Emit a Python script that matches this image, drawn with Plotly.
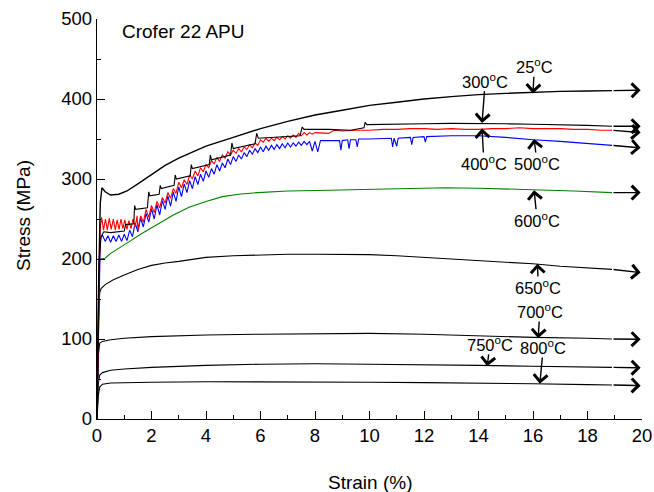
import plotly.graph_objects as go

# ---------------- data (strain %, stress MPa) ----------------
temps = ["25", "300", "400", "500", "600", "650", "700", "750", "800"]

s25 = [(0, 0), (0.05, 150), (0.12, 270), (0.18, 289), (0.3, 284), (0.5, 280), (0.8, 281),
       (1.1, 285), (1.5, 294), (2.0, 306), (2.5, 317), (3.0, 326), (3.6, 335), (4.0, 341),
       (5.0, 352), (6.0, 363), (7.0, 372), (8.0, 380), (9.0, 386), (10.0, 392), (11, 396),
       (12, 400), (13, 403), (14, 405.5), (15, 407), (16, 408.5), (17, 409.5), (18, 410),
       (18.9, 410.5)]

s300 = [(0, 0), (0.08, 200), (0.15, 228), (0.25, 234), (0.5, 233), (0.8, 234), (1.0, 235),
        (1.05, 243), (1.35, 244), (1.38, 267), (1.42, 262), (1.85, 264), (1.9, 284),
        (1.94, 279), (2.28, 281), (2.32, 292), (2.36, 288), (2.83, 292), (2.87, 305),
        (2.91, 300), (3.42, 304), (3.46, 318), (3.5, 313), (4.12, 318), (4.16, 330),
        (4.2, 324), (4.9, 330), (4.95, 345), (5.0, 338), (5.8, 344), (5.86, 357),
        (5.92, 351), (7.45, 354), (7.53, 365), (7.6, 362), (8.5, 362), (9.3, 361),
        (9.8, 364), (9.84, 371), (9.9, 368), (11, 369), (12, 369), (13, 369.5),
        (14, 369.5), (15, 369), (16, 368.5), (17, 368), (18, 367), (18.9, 366)]

s400 = [(0, 0), (0.08, 200), (0.12, 240), (0.17, 252), (0.24, 236), (0.31, 250), (0.38, 236),
        (0.45, 251), (0.52, 237), (0.6, 250), (0.67, 236), (0.74, 249), (0.81, 237),
        (0.88, 250), (0.95, 238), (1.02, 249), (1.1, 237), (1.17, 248), (1.25, 238),
        (1.32, 250), (1.4, 240), (1.47, 254),
        (1.5, 236), (1.6, 254), (1.7, 246), (1.8, 262), (1.9, 252), (2.0, 267), (2.1, 258),
        (2.2, 272), (2.3, 264), (2.4, 277), (2.5, 270), (2.6, 283), (2.7, 276), (2.8, 288),
        (2.9, 282), (3.0, 296), (3.1, 289), (3.2, 299), (3.3, 293), (3.4, 305), (3.5, 300),
        (3.6, 310), (3.7, 304), (3.8, 314), (3.9, 309), (4.0, 318), (4.1, 314), (4.2, 323),
        (4.3, 319), (4.4, 327), (4.5, 322), (4.6, 330), (4.7, 326), (4.8, 334), (4.9, 330),
        (5.0, 336), (5.1, 332), (5.2, 338), (5.3, 334), (5.4, 340), (5.5, 337), (5.6, 343),
        (5.7, 339), (5.8, 345), (5.9, 342), (6.0, 349), (6.1, 346), (6.2, 351), (6.3, 347),
        (6.4, 351), (6.5, 348), (6.6, 352), (6.7, 349), (6.8, 353), (6.9, 350), (7.0, 354),
        (7.1, 351), (7.2, 355), (7.3, 352), (7.4, 357), (7.5, 354), (7.6, 358), (7.7, 355),
        (7.8, 358), (7.9, 356), (8.0, 358), (8.5, 357), (8.7, 361), (9, 360), (9.5, 361),
        (10, 361), (10.5, 362), (11, 362), (11.5, 363), (12, 363), (12.5, 362), (13, 363),
        (13.5, 362), (14, 362), (14.5, 363), (15, 363), (15.5, 364), (16, 363), (16.5, 363),
        (17, 363), (17.5, 362), (18, 362), (18.5, 361), (18.9, 361)]

s500 = [(0, 0), (0.08, 190), (0.12, 225), (0.2, 230), (0.3, 222), (0.4, 229), (0.5, 221),
        (0.6, 229), (0.7, 222), (0.8, 230), (0.9, 222), (1.0, 231), (1.1, 223), (1.2, 236),
        (1.3, 228), (1.4, 245), (1.5, 234), (1.6, 251), (1.7, 240), (1.8, 257), (1.9, 246),
        (2.0, 263), (2.1, 250), (2.2, 268), (2.3, 255), (2.4, 273), (2.5, 262), (2.6, 279),
        (2.7, 266), (2.8, 284), (2.9, 272), (3.0, 290), (3.1, 278), (3.2, 294), (3.3, 283),
        (3.4, 298), (3.5, 288), (3.6, 303), (3.7, 293), (3.8, 306), (3.9, 297), (4.0, 310),
        (4.1, 302), (4.2, 313), (4.3, 306), (4.4, 318), (4.5, 310), (4.6, 320), (4.7, 314),
        (4.8, 325), (4.9, 318), (5.0, 328), (5.1, 322), (5.2, 330), (5.3, 325), (5.4, 333),
        (5.5, 328), (5.6, 336), (5.7, 331), (5.8, 338), (5.9, 333), (6.0, 340), (6.1, 334),
        (6.2, 341), (6.3, 336), (6.4, 342), (6.5, 337), (6.6, 343), (6.7, 338), (6.8, 344),
        (6.9, 339), (7.0, 345), (7.1, 340), (7.2, 345), (7.3, 341), (7.4, 346), (7.5, 342),
        (7.6, 347), (7.7, 343), (7.8, 347), (7.9, 335), (8.0, 347), (8.1, 334), (8.2, 348),
        (8.5, 348), (8.9, 348), (8.95, 336), (9.0, 348), (9.2, 349), (9.25, 338), (9.3, 349),
        (9.5, 349), (9.55, 340), (9.6, 350), (10, 350), (10.8, 351), (10.85, 340),
        (10.9, 351), (11.0, 341), (11.05, 351), (11.5, 352), (11.55, 343), (11.6, 352),
        (12.0, 353), (12.05, 346), (12.1, 353), (13, 354), (14, 354), (15, 352), (16, 349),
        (17, 347), (18, 344), (18.9, 342)]

s600 = [(0, 0), (0.08, 195), (0.12, 200), (0.3, 201), (0.5, 207), (0.8, 213), (1.2, 222),
        (1.6, 231), (2.2, 243), (2.8, 255), (3.4, 265), (4.0, 272), (4.6, 278), (5.2, 281),
        (5.9, 283), (7.0, 285), (8.5, 286), (10, 287), (11.5, 288), (12.8, 289), (14, 288.5),
        (16, 287), (17.5, 285), (18.9, 283)]

s650 = [(0, 0), (0.05, 120), (0.1, 158), (0.15, 163), (0.3, 168), (0.6, 174), (1.0, 180),
        (1.5, 187), (2.0, 192), (2.5, 195), (3.0, 197), (4.0, 202), (5.0, 204), (6.0, 205),
        (7.0, 206), (8.0, 206), (9.0, 206), (10.0, 205.5), (11, 204), (12, 202), (13, 200),
        (14, 198), (15, 196), (16, 194), (17, 191), (18, 189), (18.9, 187)]

s700 = [(0, 0), (0.05, 80), (0.1, 95), (0.2, 97), (0.5, 99), (1, 101), (2, 103), (3, 104),
        (4, 105), (6, 106), (8, 106.5), (10, 107), (12, 106), (14, 104), (16, 102), (18, 101),
        (18.9, 100)]

s750 = [(0, 0), (0.05, 45), (0.1, 55), (0.2, 58), (0.5, 61), (1, 62.5), (2, 64.5), (4, 67),
        (6, 68.5), (8, 69), (10, 68.5), (12, 68), (14, 67), (16, 66), (18, 65), (18.9, 64.5)]

s800 = [(0, 0), (0.05, 30), (0.1, 40), (0.2, 43.5), (0.5, 45), (1, 45.5), (2, 46), (4, 46.5),
        (6, 46.5), (8, 46.5), (10, 46), (12, 45.5), (14, 45), (16, 44), (18, 43), (18.9, 42.5)]

end_tip_strain = 19.95
end_tip_stress = [411, 366, 358, 339, 283, 183, 99.6, 64, 41.7]

# ---------------- style ----------------
series = [s25, s300, s400, s500, s600, s650, s700, s750, s800]
colors = ["black", "black", "#ff0000", "#0000ff", "#008000", "black", "black", "black", "black"]
widths = [1.4, 1.1, 1.1, 1.1, 1.1, 1.1, 1.1, 1.1, 1.1]
draw_order = [8, 7, 6, 5, 4, 3, 2, 1, 0]

FONT = "Liberation Sans, Arial, sans-serif"
ARROW = dict(showarrow=True, arrowhead=4, arrowsize=1.9, arrowwidth=1.4, arrowcolor="black")

fig = go.Figure()
for i in draw_order:
    xs = [p[0] for p in series[i]]
    ys = [p[1] for p in series[i]]
    fig.add_trace(go.Scatter(x=xs, y=ys, mode="lines",
                             line=dict(color=colors[i], width=widths[i]),
                             showlegend=False, hoverinfo="skip"))

annotations = []
# end-of-curve arrows
for i, s in enumerate(series):
    x0, y0 = s[-1]
    annotations.append(dict(x=end_tip_strain, y=end_tip_stress[i], ax=x0, ay=y0,
                            xref="x", yref="y", axref="x", ayref="y", text="", **ARROW))

# temperature labels: (text x, text y, arrow tip x, arrow tip y)
label_pos = {
    "25": (16.05, 441, 16.0, 407),
    "300": (14.25, 423, 14.13, 370),
    "400": (14.2, 320, 14.13, 363),
    "500": (16.15, 320, 16.04, 350),
    "600": (16.15, 249, 16.04, 286),
    "650": (16.2, 165, 16.16, 194),
    "700": (16.25, 135, 16.19, 101),
    "750": (14.42, 94, 14.32, 66),
    "800": (16.38, 90, 16.25, 44),
}
for t in temps:
    tx, ty, px, py = label_pos[t]
    annotations.append(dict(x=px, y=py, ax=tx, ay=ty, xref="x", yref="y",
                            axref="x", ayref="y", text=f"{t}<sup>o</sup>C",
                            standoff=0, startstandoff=0, borderpad=0,
                            font=dict(family=FONT, size=16.5, color="black"), **ARROW))

annotations.append(dict(x=0.86, y=485, xref="x", yref="y", text="Crofer 22 APU",
                        showarrow=False, xanchor="left", yanchor="middle",
                        font=dict(family=FONT, size=19, color="black")))
annotations.append(dict(x=0.5, y=-0.16, xref="paper", yref="paper", text="Strain (%)",
                        showarrow=False, xanchor="center", yanchor="middle",
                        font=dict(family=FONT, size=19, color="black")))
annotations.append(dict(x=-0.136, y=0.51, xref="paper", yref="paper", text="Stress (MPa)",
                        textangle=-90, showarrow=False, xanchor="center", yanchor="middle",
                        font=dict(family=FONT, size=19, color="black")))

axis_common = dict(showline=True, linecolor="black", linewidth=1.3, mirror=False,
                   showgrid=False, zeroline=False, ticks="inside", ticklen=8,
                   tickwidth=1.3, tickcolor="black", automargin=False,
                   tickfont=dict(family=FONT, size=18.5, color="black"))

fig.update_layout(
    width=654, height=492,
    margin=dict(l=97, r=12, t=19, b=73),
    paper_bgcolor="white", plot_bgcolor="white",
    xaxis=dict(range=[0, 20], dtick=2, tick0=0,
               minor=dict(ticks="inside", ticklen=4, dtick=1, tickcolor="black", tickwidth=1),
               **axis_common),
    yaxis=dict(range=[0, 500], dtick=100, tick0=0,
               minor=dict(ticks="inside", ticklen=4, dtick=50, tickcolor="black", tickwidth=1),
               **axis_common),
    annotations=annotations,
)

fig.write_html("out.html")
